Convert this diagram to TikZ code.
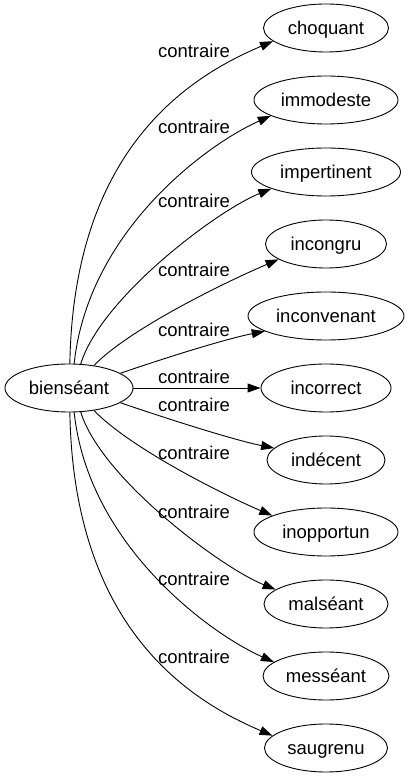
\documentclass[tikz,border=0pt]{standalone}
\usepackage{fontspec}
\setmainfont{Liberation Sans}
\usetikzlibrary{shapes.geometric,arrows.meta}

\begin{document}
\begin{tikzpicture}[->,>={Triangle[length=13pt,width=9pt]},x=1pt,y=1pt,
  node distance=72pt,line width=0.9pt,
  word/.style={ellipse,draw,inner sep=0pt,minimum height=48pt,
    font=\fontsize{18.5}{22}\selectfont,text height=14pt,text depth=0pt},
  rel/.style={inner sep=0pt,font=\fontsize{18.5}{22}\selectfont,
    text height=14pt,text depth=0pt}]
\useasboundingbox (0,0) rectangle (409,779);

% source word
  \node[word,minimum width=128pt] (bienseant) at (69,391) {bienséant};

% contraires, top to bottom
  \node[word,minimum width=125pt] (choquant) at (326,751) {choquant};
  \node[word,minimum width=144pt] (immodeste) [below of=choquant] {immodeste};
  \node[word,minimum width=149pt] (impertinent) [below of=immodeste] {impertinent};
  \node[word,minimum width=121pt] (incongru) [below of=impertinent] {incongru};
  \node[word,minimum width=156pt] (inconvenant) [below of=incongru] {inconvenant};
  \node[word,minimum width=130pt] (incorrect) [below of=inconvenant] {incorrect};
  \node[word,minimum width=118pt] (indecent) [below of=incorrect] {indécent};
  \node[word,minimum width=144pt] (inopportun) [below of=indecent] {inopportun};
  \node[word,minimum width=124pt] (malseant) [below of=inopportun] {malséant};
  \node[word,minimum width=126pt] (messeant) [below of=malseant] {messéant};
  \node[word,minimum width=123pt] (saugrenu) [below of=messeant] {saugrenu};

% upper fan
  \path
    (bienseant.88) edge [out=89,in=203,out distance=216pt,in distance=90pt] (choquant.194)
    (bienseant.78) edge [out=84,in=204,out distance=132pt,in distance=72pt] (immodeste.196)
    (bienseant.64) edge [out=73,in=202,out distance=69pt,in distance=59pt] (impertinent.197)
    (bienseant.42) edge [out=46,in=203,out distance=53pt,in distance=51pt] (incongru.198)
    (bienseant.16) edge [out=19,in=191,out distance=42pt,in distance=41pt] (inconvenant.194)

    (bienseant) edge (incorrect);

% lower fan
  \path
    (bienseant.-16) edge [out=-19,in=169,out distance=42pt,in distance=41pt] (indecent.167)
    (bienseant.-42) edge [out=-46,in=157,out distance=53pt,in distance=51pt] (inopportun.163)
    (bienseant.-64) edge [out=-73,in=158,out distance=69pt,in distance=59pt] (malseant.164)
    (bienseant.-78) edge [out=-84,in=156,out distance=132pt,in distance=72pt] (messeant.165)
    (bienseant.-88) edge [out=-89,in=157,out distance=216pt,in distance=90pt] (saugrenu.167);

% edge labels
  \node[rel] (r1) at (194,728) {contraire};
  \node[rel] (r2) at (194,652) {contraire};
  \node[rel] (r3) at (194,578) {contraire};
  \node[rel] (r4) at (194,509) {contraire};
  \node[rel] (r5) at (194,449) {contraire};
  \node[rel] (r6) at (194,402) {contraire};
  \node[rel] (r7) at (194,374) {contraire};
  \node[rel] (r8) at (194,326) {contraire};
  \node[rel] (r9) at (194,267) {contraire};
  \node[rel] (r10) at (194,200) {contraire};
  \node[rel] (r11) at (194,122) {contraire};

\end{tikzpicture}
\end{document}
